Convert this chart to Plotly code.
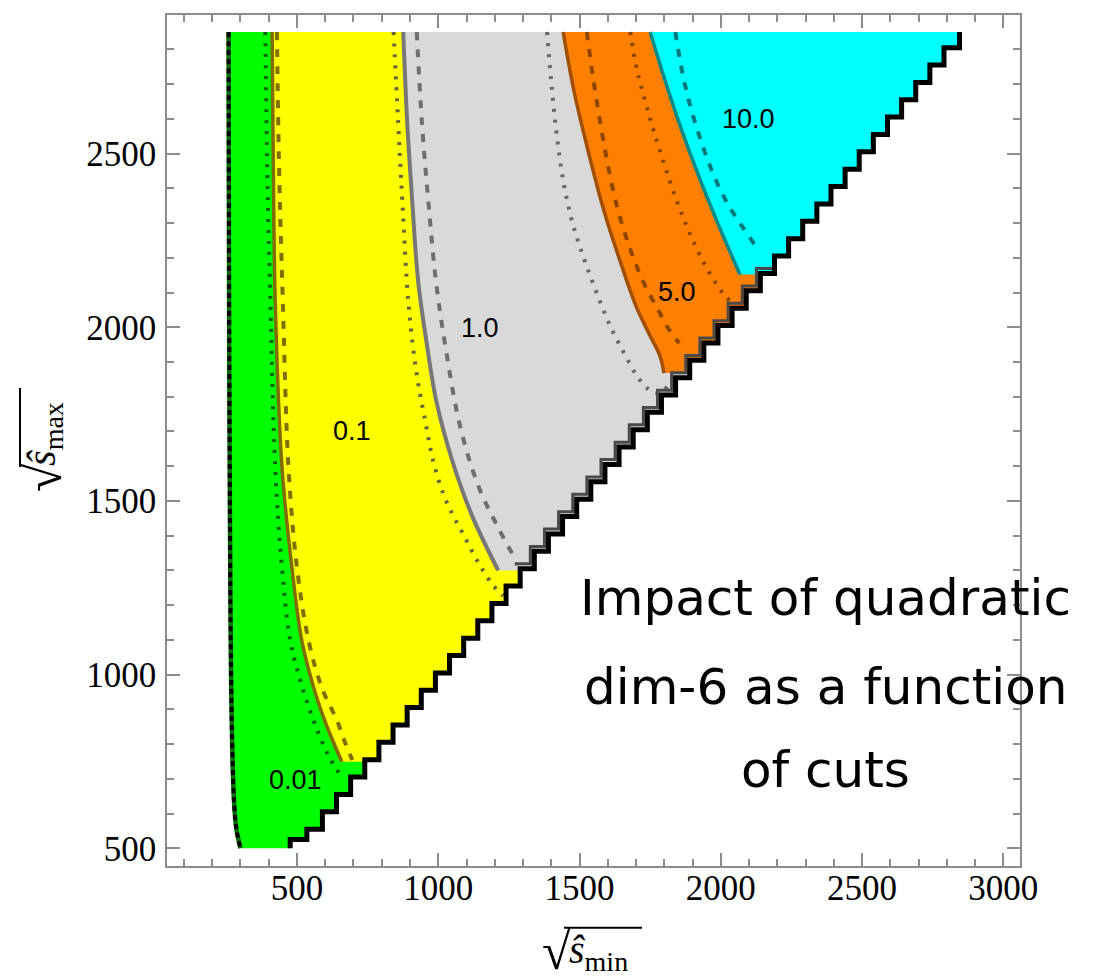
import plotly.graph_objects as go

# ---------------- data ----------------
# left edge of the physical domain (top -> bottom)
edge_x = [258, 259, 260, 262, 265, 268, 274, 280, 286, 300]
edge_y = [2850, 2400, 2000, 1600, 1150, 924, 697, 600, 553, 500]

# staircase (grid) edge of the domain: row boundaries in sqrt(s_max) and the
# largest sqrt(s_min) sampled in each row
stair_rows = [500, 525, 555] + list(range(605, 2806, 50)) + [2850]
stair_edges = [476, 535] + list(range(590, 2791, 50)) + [2845]

# contour levels
levels = ["0.01", "0.1", "1.0", "5.0", "10.0"]
label_x = [496, 696, 1149, 1845, 2097]
label_y = [698, 1700, 1999, 2101, 2600]

# solid contours (top -> tip)
c01_x = [412, 416, 423, 447, 482, 517, 559, 594, 630, 659]
c01_y = [2850, 2477, 2074, 1596, 1308, 1098, 963, 877, 803, 749]
c1_x = [876, 890, 908, 929, 958, 993, 1050, 1120, 1212]
c1_y = [2850, 2592, 2362, 2132, 1960, 1788, 1615, 1457, 1300]
c5_x = [1442, 1481, 1531, 1587, 1644, 1700, 1750, 1785, 1799]
c5_y = [2850, 2678, 2506, 2334, 2190, 2061, 1975, 1917, 1868]
c10_x = [1750, 1801, 1858, 1922, 1992, 2068]
c10_y = [2850, 2715, 2576, 2435, 2294, 2152]

# dashed contours
d01_x = [429, 437, 450, 470, 500, 541, 589, 641, 671, 696]
d01_y = [2850, 2448, 2074, 1596, 1308, 1098, 960, 869, 803, 754]
d1_x = [924, 942, 965, 992, 1028, 1077, 1142, 1209, 1266]
d1_y = [2850, 2592, 2362, 2132, 1932, 1716, 1543, 1428, 1342]
d5_x = [1526, 1545, 1570, 1598, 1633, 1676, 1725, 1775, 1814, 1853]
d5_y = [2850, 2735, 2606, 2477, 2347, 2233, 2132, 2055, 1997, 1954]
d10_x = [1839, 1860, 1888, 1931, 1977, 2026, 2076, 2125]
d10_y = [2850, 2750, 2649, 2534, 2434, 2353, 2290, 2232]

# dotted contours
p001_x = [388, 395, 406, 423, 447, 476, 512, 558, 611, 653]
p001_y = [2850, 2448, 2074, 1596, 1308, 1098, 983, 869, 768, 711]
p01_x = [842, 858, 873, 894, 922, 954, 982, 1018, 1053, 1088, 1124, 1159, 1195, 1230]
p01_y = [2850, 2592, 2362, 2075, 1874, 1730, 1615, 1520, 1457, 1405, 1348, 1299, 1256, 1227]
p1_x = [1385, 1400, 1418, 1443, 1474, 1513, 1559, 1609, 1658, 1704, 1743, 1771, 1814]
p1_y = [2850, 2706, 2563, 2419, 2304, 2204, 2103, 2003, 1925, 1859, 1822, 1810, 1830]
p5_x = [1680, 1703, 1750, 1797, 1845, 1892, 1951, 2010, 2034]
p5_y = [2850, 2743, 2600, 2477, 2362, 2267, 2169, 2095, 2075]

x_ticks = [500, 1000, 1500, 2000, 2500, 3000]
y_ticks = [500, 1000, 1500, 2000, 2500]

note_lines = ["Impact of quadratic", "dim-6 as a function", "of cuts"]

# ---------------- helpers ----------------
def stair_pts(ymin, ymax=1e9):
    xs, ys = [], []
    for i, xe in enumerate(stair_edges):
        y0, y1 = stair_rows[i], stair_rows[i + 1]
        if y1 <= ymin or y0 >= ymax:
            continue
        xs += [xe, xe]
        ys += [max(y0, ymin), min(y1, ymax)]
    return xs, ys


def region(cx, cy, color):
    sx, sy = stair_pts(cy[-1])
    return go.Scatter(x=cx + sx, y=cy + sy, mode="lines", fill="toself",
                      fillcolor=color, line=dict(width=0), hoverinfo="skip",
                      showlegend=False)


def curve(cx, cy, color, width, dash="solid", shape="spline"):
    return go.Scatter(x=cx, y=cy, mode="lines",
                      line=dict(color=color, width=width, dash=dash, shape=shape,
                                smoothing=1.0),
                      hoverinfo="skip", showlegend=False)


fig = go.Figure()

# filled regions
fig.add_trace(region(edge_x, edge_y, "#00ff00"))
fig.add_trace(region(c01_x, c01_y, "#ffff00"))
fig.add_trace(region(c1_x, c1_y, "#d9d9d9"))
fig.add_trace(region(c5_x, c5_y, "#ff8000"))
fig.add_trace(region(c10_x, c10_y, "#00ffff"))

DASH = "8px,9px"
DOT = "3px,8px"

# dotted
fig.add_trace(curve(p001_x, p001_y, "#006400", 4, DOT))
fig.add_trace(curve(p01_x, p01_y, "#66663a", 4, DOT))
fig.add_trace(curve(p1_x, p1_y, "#686868", 4, DOT))
fig.add_trace(curve(p5_x, p5_y, "#8a4400", 4, DOT))
# dashed
fig.add_trace(curve(d01_x, d01_y, "#7f7000", 4, DASH))
fig.add_trace(curve(d1_x, d1_y, "#6e6e6e", 4, DASH))
fig.add_trace(curve(d5_x, d5_y, "#8f4700", 4, DASH))
fig.add_trace(curve(d10_x, d10_y, "#007a7a", 4, DASH))
# solid
fig.add_trace(curve(c01_x, c01_y, "#806c00", 3.5))
fig.add_trace(curve(c1_x, c1_y, "#777777", 4))
fig.add_trace(curve(c5_x, c5_y, "#a04f00", 3.5))
fig.add_trace(curve(c10_x, c10_y, "#008a8a", 3.5))

# domain edges
fig.add_trace(curve(edge_x, edge_y, "#006b00", 4.5))
fig.add_trace(curve(edge_x, edge_y, "#000000", 4, "5px,4px"))
# inner band of boundary lines along the staircase (middle part)
bx, by = stair_pts(1300, 2160)
fig.add_trace(go.Scatter(x=[v - 14 for v in bx], y=[v + 14 for v in by], mode="lines",
                         line=dict(color="#4a4a4a", width=3), hoverinfo="skip",
                         showlegend=False))
sx, sy = stair_pts(500)
fig.add_trace(curve(sx, sy, "#000000", 5, shape="linear"))

annotations = []
for t, lx, ly in zip(levels, label_x, label_y):
    annotations.append(dict(x=lx, y=ly, xref="x", yref="y", text=t,
                            showarrow=False,
                            font=dict(family="Liberation Sans, Arial", size=27,
                                      color="black")))

note_y = [1222, 963, 725]
for t, ny in zip(note_lines, note_y):
    annotations.append(dict(x=2371, y=ny, xref="x", yref="y", text=t,
                            showarrow=False, xanchor="center", yanchor="middle",
                            font=dict(family="DejaVu Sans", size=50,
                                      color="black")))

# ---- axis titles built from pieces (plot area: x 167..1020 px, y 13..866 px)
def px(v):
    return (v - 167) / 853.0


def py(v):
    return (866 - v) / 853.0


serif = "Liberation Serif"
# x title
annotations.append(dict(x=px(556), y=py(952), xref="paper", yref="paper",
                        showarrow=False, text="√", xanchor="center", yanchor="middle",
                        borderpad=0,
                        font=dict(family=serif, size=52, color="black")))
annotations.append(dict(x=px(568), y=py(952), xref="paper", yref="paper",
                        showarrow=False, text="<i>ŝ</i><sub>min</sub>",
                        xanchor="left", yanchor="middle", borderpad=0,
                        font=dict(family=serif, size=40, color="black")))
# y title (rotated)
annotations.append(dict(x=px(44), y=py(476), xref="paper", yref="paper",
                        showarrow=False, text="√", textangle=-90,
                        xanchor="center", yanchor="middle", borderpad=0,
                        font=dict(family=serif, size=52, color="black")))
annotations.append(dict(x=px(44), y=py(466), xref="paper", yref="paper",
                        showarrow=False, text="<i>ŝ</i><sub>max</sub>",
                        textangle=-90, xanchor="center", yanchor="bottom",
                        borderpad=0,
                        font=dict(family=serif, size=40, color="black")))

shapes = [
    dict(type="line", xref="paper", yref="paper", x0=px(564), x1=px(642),
         y0=py(928), y1=py(928), line=dict(color="black", width=2)),
    dict(type="line", xref="paper", yref="paper", x0=px(20), x1=px(20),
         y0=py(387), y1=py(466), line=dict(color="black", width=2)),
]

axis_common = dict(showgrid=False, zeroline=False, showline=True,
                   linecolor="#8c8c8c", linewidth=1.5, mirror="ticks",
                   ticks="inside", ticklen=13, tickwidth=1.5, tickcolor="#8c8c8c",
                   tickfont=dict(family=serif, size=35, color="black"),
                   minor=dict(ticks="inside", ticklen=7, dtick=100,
                              tickcolor="#8c8c8c", tickwidth=1.5))

# the page has an 8px body margin, so the figure is drawn 8px smaller
fig.update_layout(
    width=1107, height=972,
    margin=dict(l=159, r=95, t=5, b=114),
    paper_bgcolor="white", plot_bgcolor="white",
    xaxis=dict(range=[40, 3059], tickvals=x_ticks, ticktext=[str(v) for v in x_ticks],
               ticklabelstandoff=-10, **axis_common),
    yaxis=dict(range=[449, 2899], tickvals=y_ticks, ticktext=[str(v) for v in y_ticks],
               ticklabelstandoff=2, **axis_common),
    annotations=annotations,
    shapes=shapes,
)
fig.write_html("out.html")
